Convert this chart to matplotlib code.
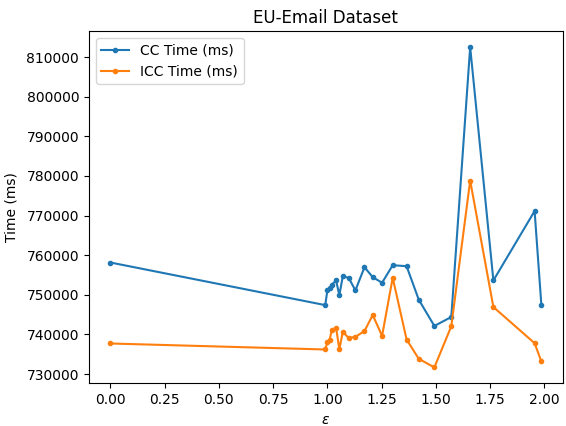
import matplotlib
matplotlib.use("Agg")
import matplotlib.pyplot as plt

# epsilon values shared by both series
eps = [0.0, 0.99, 1.0, 1.01, 1.02, 1.04, 1.055, 1.071, 1.098, 1.129, 1.171,
       1.209, 1.252, 1.301, 1.365, 1.421, 1.493, 1.571, 1.658, 1.765, 1.955, 1.986]

cc_time = [758150, 747400, 751110, 751610, 752540, 753620, 749930, 754630,
           754300, 751110, 756970, 754450, 753046, 757470, 757218, 748774,
           742139, 744400, 812508, 753624, 771140, 747517]

icc_time = [737715, 736200, 738040, 738540, 741060, 741740, 736280, 740630,
            739120, 739370, 740880, 744900, 739625, 754300, 738720, 733845,
            731684, 742063, 778830, 746914, 737791, 733192]


def main():
    fig = plt.figure(figsize=(5.66, 4.26), dpi=100)
    ax = fig.add_axes([0.157, 0.100, 0.8375, 0.827])

    ax.plot(eps, cc_time, marker='.', label='CC Time (ms)')
    ax.plot(eps, icc_time, marker='.', label='ICC Time (ms)')

    ax.set_title('EU-Email Dataset')
    ax.set_xlabel(r'$\varepsilon$')
    ax.set_ylabel('Time (ms)', labelpad=6)
    ax.legend(loc='upper left')

    fig.savefig('out.png', dpi=100)


if __name__ == "__main__":
    main()
